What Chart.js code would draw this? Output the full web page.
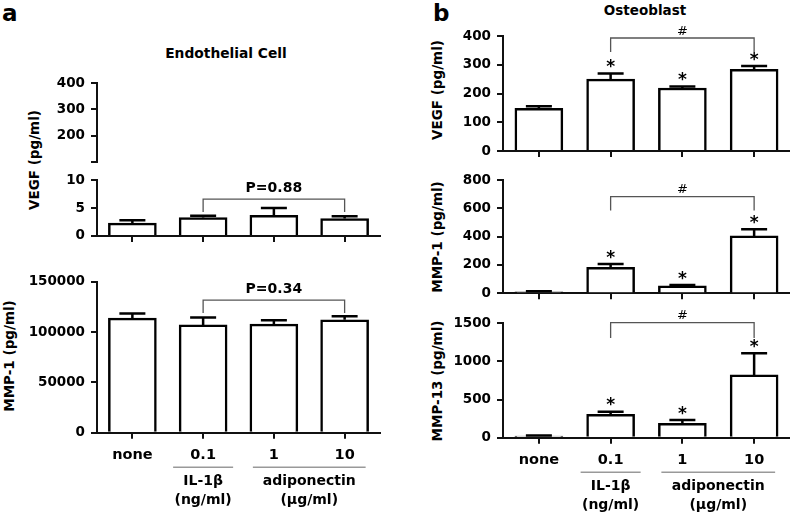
<!DOCTYPE html>
<html>
<head>
<meta charset="utf-8">
<script src="https://cdn.jsdelivr.net/npm/chart.js@4"></script>
<style>
  html, body { margin: 0; padding: 0; }
  body { width: 790px; height: 516px; overflow: hidden; background: #fff; position: relative; font-family: "DejaVu Sans", sans-serif; font-weight: bold; color: #000; }
  canvas { position: absolute; }
  .t { position: absolute; white-space: nowrap; line-height: 1; }
  .c { transform: translateX(-50%); }
  .r { transform: translate(-50%, -50%) rotate(-90deg); }
</style>
</head>
<body>
<div class="t" style="left:2px;top:2px;font-size:23px;">a</div>
<div class="t" style="left:433px;top:2px;font-size:23px;">b</div>
<div class="t c" style="left:226px;top:47px;font-size:13.8px;">Endothelial Cell</div>
<div class="t c" style="left:645px;top:4px;font-size:13.5px;">Osteoblast</div>
<div class="t r" style="left:35px;top:160px;font-size:13.5px;">VEGF (pg/ml)</div>
<div class="t r" style="left:10px;top:356px;font-size:13.5px;">MMP-1 (pg/ml)</div>
<div class="t r" style="left:438px;top:90px;font-size:13.5px;">VEGF (pg/ml)</div>
<div class="t r" style="left:438px;top:237px;font-size:13.5px;">MMP-1 (pg/ml)</div>
<div class="t r" style="left:438px;top:381px;font-size:13.5px;">MMP-13 (pg/ml)</div>
<script>
// ---------- data ----------
const categories = ['none', '0.1', '1', '10'];
const groupNames = ['IL-1\u03b2', 'adiponectin'];
const groupUnits = ['(ng/ml)', '(\u03bcg/ml)'];
const groupSpans = [[1, 1], [2, 3]];

// Panel a: Endothelial Cell
const endoVEGF = [2.3, 3.3, 3.7, 3.1];
const endoVEGFErr = [0.5, 0.3, 1.3, 0.4];
const endoVEGFTicksHigh = [100, 200, 300, 400];
const endoVEGFTicksLow = [0, 5, 10];
const endoMMP1 = [113800, 107100, 107800, 112100];
const endoMMP1Err = [4600, 7400, 4000, 3700];
const endoMMP1Ticks = [0, 50000, 100000, 150000];

// Panel b: Osteoblast
const osteoVEGF = [148, 250, 219, 284];
const osteoVEGFErr = [8, 20, 5, 12];
const osteoVEGFTicks = [0, 100, 200, 300, 400];
const osteoMMP1 = [10, 184, 52, 405];
const osteoMMP1Err = [4, 23, 6, 47];
const osteoMMP1Ticks = [0, 200, 400, 600, 800];
const osteoMMP13 = [20, 307, 189, 823];
const osteoMMP13Err = [10, 34, 43, 284];
const osteoMMP13Ticks = [0, 500, 1000, 1500];
const osteoSignificant = [false, true, true, true];

// comparison brackets (in data units): [from, to, level, drop, label]
const endoVEGFCompare = [1, 3, 6.6, 4.3, 'P=0.88'];
const endoMMP1Compare = [1, 3, 131700, 118800, 'P=0.34'];
const osteoVEGFCompare = [1, 3, 393, 344, '#'];
const osteoMMP1Compare = [1, 3, 683, 584, '#'];
const osteoMMP13Compare = [1, 3, 1508, 1308, '#'];

// ---------- drawing ----------
Chart.defaults.font.family = "'DejaVu Sans', sans-serif";
Chart.defaults.font.weight = 'bold';
Chart.defaults.color = '#000';
Chart.defaults.animation = false;
const AX = '#111';

function makeChart(c) {
  const cv = document.createElement('canvas');
  cv.width = c.width; cv.height = c.height;
  Object.assign(cv.style, { left: c.left + 'px', top: c.top + 'px', width: c.width + 'px', height: c.height + 'px' });
  document.body.appendChild(cv);
  const showX = c.showX !== false;
  const xH = showX ? c.xAxisH : 0;
  const padding = { left: 0, top: c.y0 - c.top, right: c.left + c.width - c.x1, bottom: c.top + c.height - c.y1 - xH };
  const datasets = c.values ? [{
    data: c.values, backgroundColor: '#fff', borderColor: '#000', borderWidth: 2.5,
    barThickness: 48, borderSkipped: 'start'
  }] : [];

  const marks = {
    id: 'marks',
    afterDatasetsDraw(chart) {
      if (!c.values) return;
      const ctx = chart.ctx, y = chart.scales.y, meta = chart.getDatasetMeta(0);
      ctx.save();
      ctx.strokeStyle = '#000'; ctx.lineWidth = 2.5;
      meta.data.forEach((bar, i) => {
        const top = y.getPixelForValue(c.values[i] + c.errors[i]);
        ctx.beginPath();
        ctx.moveTo(bar.x, bar.y); ctx.lineTo(bar.x, top);
        ctx.moveTo(bar.x - 13, top); ctx.lineTo(bar.x + 13, top);
        ctx.stroke();
        if (c.stars && c.stars[i]) {
          ctx.fillStyle = '#000';
          ctx.font = "bold 17px 'DejaVu Sans'";
          ctx.textAlign = 'center'; ctx.textBaseline = 'alphabetic';
          ctx.fillText('*', bar.x, top - 10 + 8.8);
        }
      });
      ctx.restore();
    },
    afterDraw(chart) {
      const ctx = chart.ctx, x = chart.scales.x, y = chart.scales.y;
      ctx.save();
      if (c.compare) {
        const [f, t, lvl, drop, label] = c.compare;
        const x1 = x.getPixelForValue(f), x2 = x.getPixelForValue(t);
        const yl = y.getPixelForValue(lvl), yd = y.getPixelForValue(drop);
        ctx.strokeStyle = '#555'; ctx.lineWidth = 1.3;
        ctx.beginPath();
        ctx.moveTo(x1, yd); ctx.lineTo(x1, yl); ctx.lineTo(x2, yl); ctx.lineTo(x2, yd);
        ctx.stroke();
        ctx.fillStyle = '#000'; ctx.textAlign = 'center'; ctx.textBaseline = 'alphabetic';
        if (label === '#') {
          ctx.font = "13px 'DejaVu Sans'";
          ctx.fillText(label, (x1 + x2) / 2, yl - 8 + 4.7);
        } else {
          ctx.font = "bold 14px 'DejaVu Sans'";
          ctx.fillText(label, (x1 + x2) / 2, yl - 12 + 5.1);
        }
      }
      if (c.groups) {
        const b = chart.chartArea.bottom;
        groupSpans.forEach((sp, g) => {
          const c1 = x.getPixelForValue(sp[0]), c2 = x.getPixelForValue(sp[1]);
          const cx = (c1 + c2) / 2;
          const half = sp[0] === sp[1] ? 30 : (c2 - c1) / 2 + 21;
          ctx.strokeStyle = '#999'; ctx.lineWidth = 1.5;
          ctx.beginPath(); ctx.moveTo(cx - half, b + 34.5); ctx.lineTo(cx + half, b + 34.5); ctx.stroke();
          ctx.fillStyle = '#000'; ctx.textAlign = 'center'; ctx.textBaseline = 'alphabetic';
          ctx.font = "bold 14px 'DejaVu Sans'";
          ctx.fillText(groupNames[g], cx, b + 47.5 + 5.1);
          ctx.fillText(groupUnits[g], cx, b + 66.5 + 5.1);
        });
      }
      ctx.restore();
    }
  };

  return new Chart(cv, {
    type: 'bar',
    data: { labels: categories, datasets },
    options: {
      responsive: false, devicePixelRatio: 1, animation: false,
      layout: { padding },
      plugins: { legend: { display: false }, tooltip: { enabled: false } },
      scales: {
        x: {
          display: showX, offset: true,
          border: { display: true, color: AX, width: 2 },
          grid: { display: true, drawOnChartArea: false, drawTicks: true, tickLength: 6, color: AX, lineWidth: 2, offset: false },
          ticks: { display: !!c.xLabels, font: { size: 14.5, weight: 'bold' }, padding: 8, color: '#000', maxRotation: 0, autoSkip: false },
          afterFit: s => { s.height = xH; }
        },
        y: {
          min: c.min, max: c.max,
          border: { display: true, color: AX, width: 2 },
          grid: { display: true, drawOnChartArea: false, drawTicks: true, tickLength: 6, color: AX, lineWidth: 2 },
          ticks: {
            font: { size: 13.5, weight: 'bold' }, padding: 6, color: '#000',
            callback: v => (c.hideTick !== undefined && v === c.hideTick) ? '' : String(v)
          },
          afterBuildTicks: s => { s.ticks = c.ticks.map(v => ({ value: v })); },
          afterFit: s => { s.width = c.x0 - c.left; }
        }
      }
    },
    plugins: [marks]
  });
}

// Panel a
makeChart({ left: 0, top: 68, width: 400, height: 108, x0: 97, x1: 380, y0: 83, y1: 165, showX: false,
  min: 100, max: 400, ticks: endoVEGFTicksHigh, hideTick: 100 });
makeChart({ left: 0, top: 166, width: 400, height: 84, x0: 97, x1: 380, y0: 180, y1: 236, xAxisH: 8,
  min: 0, max: 10, ticks: endoVEGFTicksLow, values: endoVEGF, errors: endoVEGFErr, compare: endoVEGFCompare });
makeChart({ left: 0, top: 264, width: 400, height: 252, x0: 97, x1: 380, y0: 281.7, y1: 432.7, xAxisH: 30, xLabels: true, groups: true,
  min: 0, max: 150000, ticks: endoMMP1Ticks, values: endoMMP1, errors: endoMMP1Err, compare: endoMMP1Compare });

// Panel b
makeChart({ left: 400, top: 18, width: 400, height: 152, x0: 503, x1: 790, y0: 36, y1: 151, xAxisH: 8,
  min: 0, max: 400, ticks: osteoVEGFTicks, values: osteoVEGF, errors: osteoVEGFErr, stars: osteoSignificant, compare: osteoVEGFCompare });
makeChart({ left: 400, top: 165, width: 400, height: 145, x0: 503, x1: 790, y0: 180, y1: 293.3, xAxisH: 8,
  min: 0, max: 800, ticks: osteoMMP1Ticks, values: osteoMMP1, errors: osteoMMP1Err, stars: osteoSignificant, compare: osteoMMP1Compare });
makeChart({ left: 400, top: 305, width: 400, height: 211, x0: 503, x1: 790, y0: 323.3, y1: 437.7, xAxisH: 30, xLabels: true, groups: true,
  min: 0, max: 1500, ticks: osteoMMP13Ticks, values: osteoMMP13, errors: osteoMMP13Err, stars: osteoSignificant, compare: osteoMMP13Compare });
</script>
</body>
</html>
